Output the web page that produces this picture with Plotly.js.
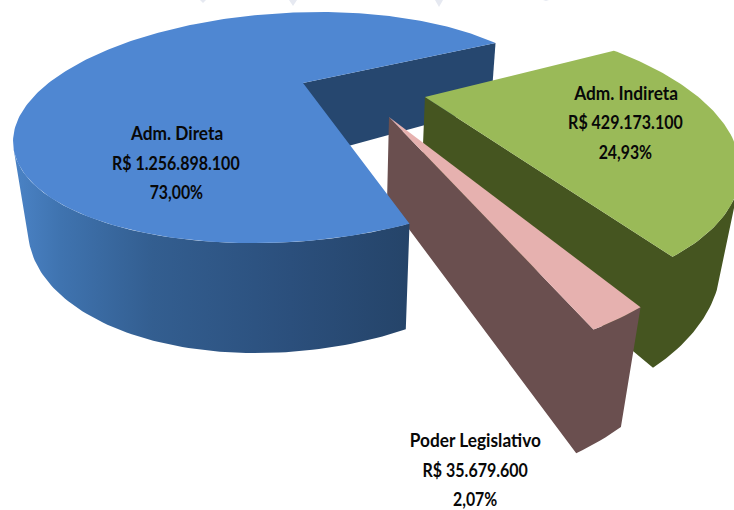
<!DOCTYPE html>
<html>
<head>
<meta charset="utf-8">
<script src="https://cdn.plot.ly/plotly-3.0.1.min.js"></script>
<style>html,body{margin:0;padding:0;background:#fff}#chart{width:734px;height:510px}</style>
</head>
<body>
<div id="chart"></div>
<script>
// Data, in the angular order of the pie
const categories = ['Adm. Direta', 'Poder Legislativo', 'Adm. Indireta'];
const amounts = [1256898100, 35679600, 429173100];
const amountLabels = ['R$ 1.256.898.100', 'R$ 35.679.600', 'R$ 429.173.100'];
const shareLabels = ['73,00%', '2,07%', '24,93%'];

// Pie styling
const explodeX = [0, 0.331, 0.477];
const explodeY = [0, -0.3135, -0.146];
const radius = [1, 1.06, 1.07];
const topColors = ['#4f87d2', '#e6b1af', '#9aba58'];
const sideColors = ['#26476f', '#6a4f4f', '#455520'];
const labelX = [176, 475, 625];
const labelY = [[133, 163, 192], [440, 470, 499], [93, 122, 152]];
const lineNarrowing = [0.96, 0.89, 0.88];
const firstAngle = 28;

// Perspective projection of the pie's world coordinates onto the plot
function project(X, Y, Z) {
  const w = 1 + 0.024 * X + 0.385 * Y + 0.038 * Z;
  return [(303 + 258 * X + 138 * Y + 13 * Z) / w,
          (83 - 66.4 * Y + 81 * Z) / w];
}
const total = amounts.reduce((a, b) => a + b, 0);
const traces = [];
function face(points, style) {
  traces.push(Object.assign({
    type: 'scatter', mode: 'lines', x: points.map(p => p[0]), y: points.map(p => p[1]),
    fill: 'toself', line: {width: 0}, hoverinfo: 'skip', showlegend: false
  }, style));
}
const slices = [];
let start = firstAngle;
amounts.forEach((v, i) => {
  const sweep = v / total * 360;
  slices.push({i, start, end: start + sweep});
  start += sweep;
});
function rim(s, deg, Z) {
  const t = deg * Math.PI / 180;
  return project(explodeX[s.i] + radius[s.i] * Math.cos(t), explodeY[s.i] + radius[s.i] * Math.sin(t), Z);
}
function arc(s, Z, a, b) {
  const n = Math.max(4, Math.ceil(Math.abs(b - a)));
  const out = [];
  for (let k = 0; k <= n; k++) out.push(rim(s, a + (b - a) * k / n, Z));
  return out;
}
function centre(s, Z) { return project(explodeX[s.i], explodeY[s.i], Z); }
function topFace(s) {
  face([centre(s, 0)].concat(arc(s, 0, s.start, s.end), [centre(s, 0)]), {fillcolor: topColors[s.i]});
}
function visibleRange(s) {
  let a = null, b = null;
  const step = 0.5;
  for (let d = s.start; d < s.end; d += step) {
    const p = rim(s, d, 0), q = rim(s, d + step, 0), r = rim(s, d, 1);
    const cross = (q[0] - p[0]) * (r[1] - p[1]) - (q[1] - p[1]) * (r[0] - p[0]);
    if (cross > 0) { if (a === null) a = d; b = Math.min(d + step, s.end); }
  }
  return [a, b];
}
// Cut face and outer wall of a slice, as one outline
function wallWithCut(s) {
  const [a, b] = visibleRange(s);
  const upper = arc(s, 0, a, b), lower = arc(s, 1, a, b).reverse();
  face([centre(s, 0)].concat(upper, lower, [centre(s, 1), centre(s, 0)]), {fillcolor: sideColors[s.i]});
}
function outerWall(s, style) {
  const [a, b] = visibleRange(s);
  const upper = arc(s, 0, a, b), lower = arc(s, 1, a, b).reverse();
  face(upper.concat(lower, [upper[0]]), style);
}

const [direta, legislativo, indireta] = slices;
// Painter's order, far to near
face([centre(direta, 0), rim(direta, direta.start, 0), rim(direta, direta.start, 1), centre(direta, 1), centre(direta, 0)],
     {fillcolor: sideColors[0]});
wallWithCut(indireta);
topFace(indireta);
wallWithCut(legislativo);
topFace(legislativo);
outerWall(direta, {fillgradient: {type: 'horizontal', colorscale: [
  [0, '#4b83c6'], [0.12, '#3f73af'], [0.35, '#335e90'], [0.7, '#2b4f7c'], [1, '#254469']]}});
topFace(direta);

const annotations = [];
const narrowing = [];
slices.forEach(s => {
  [categories[s.i], amountLabels[s.i], shareLabels[s.i]].forEach((text, k) => {
    narrowing.push(lineNarrowing[k]);
    annotations.push({
      x: labelX[s.i], y: labelY[s.i][k], xref: 'x', yref: 'y', text: '<b>' + text + '</b>',
      showarrow: false, xanchor: 'center', yanchor: 'middle',
      font: {family: 'Lato, sans-serif', size: 18, color: '#080808'}
    });
  });
});

// Faint background marks cut off by the top edge
const watermark = [[203, 6, 3], [293, 8, 6], [439, 8, 7], [546, 6, 1]].map(([x, w, h]) => ({
  type: 'path', layer: 'below', xref: 'x', yref: 'y', line: {width: 0}, fillcolor: '#e6e9f1',
  path: `M${x - w / 2},0 L${x + w / 2},0 L${x},${h} Z`
}));

const hidden = {visible: false, fixedrange: true};
Plotly.newPlot('chart', traces, {
  width: 734, height: 510, margin: {l: 0, r: 0, t: 0, b: 0},
  paper_bgcolor: '#ffffff', plot_bgcolor: '#ffffff', showlegend: false,
  xaxis: Object.assign({range: [0, 734]}, hidden),
  yaxis: Object.assign({range: [510, 0]}, hidden),
  annotations, shapes: watermark
}, {displayModeBar: false, staticPlot: true}).then(() => {
  // The reference type is condensed: narrow each line about its own centre
  document.querySelectorAll('#chart .annotation-text').forEach((t, i) => {
    const b = t.getBBox(), cx = b.x + b.width / 2, cy = b.y + b.height / 2;
    t.setAttribute('transform', `translate(${cx},${cy}) scale(${narrowing[i]},1.07) translate(${-cx},${-cy})`);
  });
});
</script>
</body>
</html>
